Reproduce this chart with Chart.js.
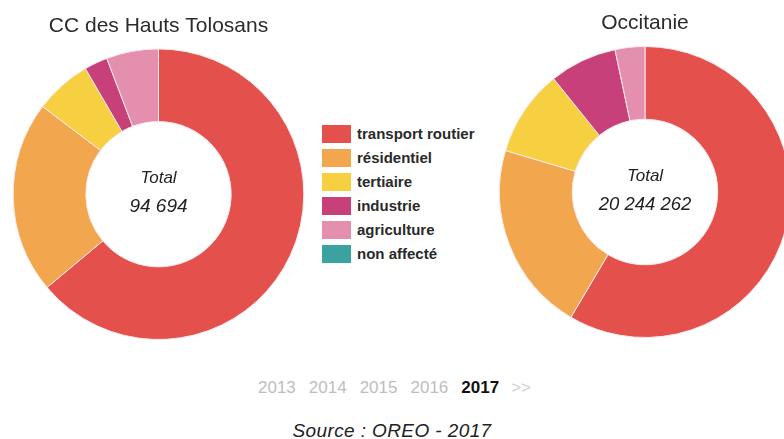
<!DOCTYPE html>
<html>
<head>
<meta charset="utf-8">
<script src="https://cdn.jsdelivr.net/npm/chart.js@4.4.1/dist/chart.umd.min.js"></script>
<style>
    html, body { margin: 0; padding: 0; background: #fff; }
    body { width: 784px; height: 439px; position: relative; overflow: hidden; font-family: 'Liberation Sans', Arial, sans-serif; }
    #leftBox { position: absolute; left: 0; top: 0; width: 317px; height: 342px; }
    #rightBox { position: absolute; left: 495px; top: 0; width: 300px; height: 340px; }
    #legend { position: absolute; left: 322px; top: 125px; }
    .row { height: 24px; display: flex; align-items: flex-start; }
    .box { width: 29px; height: 18px; margin-right: 6px; }
    .lbl { font-weight: bold; font-size: 15px; color: #2a2a2a; line-height: 18px; }
    #years { position: absolute; left: 258px; top: 378px; font-size: 17px; color: #bdbdbd; white-space: nowrap; }
    #years span { margin-right: 13px; }
    #years b { color: #111; margin-right: 12px; }
    #years i { font-style: normal; color: #cfcfcf; font-size: 17px; }
    #source { position: absolute; left: 0; width: 784px; top: 420px; text-align: center; font-size: 19px; letter-spacing: 0.4px; font-style: italic; color: #222; }
</style>
</head>
<body>
<div id="leftBox"><canvas id="leftChart"></canvas></div>
<div id="rightBox"><canvas id="rightChart"></canvas></div>
<div id="legend"></div>
<div id="years"></div>
<div id="source">Source : OREO - 2017</div>

<script>
const sectors = ['transport routier', 'résidentiel', 'tertiaire', 'industrie', 'agriculture', 'non affecté'];
const sectorColors = ['#e4514d', '#f2a74e', '#f6d040', '#c8407a', '#e48fae', '#3aa29f'];

const hautsTolosansValues = [60520, 20260, 5970, 2460, 5484, 0];
const occitanieValues = [11843000, 4271000, 1943000, 1518000, 669262, 0];

const hautsTolosansTotal = '94 694';
const occitanieTotal = '20 244 262';

const years = ['2013', '2014', '2015', '2016', '2017'];
const currentYear = '2017';

// legend in the middle
const legend = document.getElementById('legend');
sectors.forEach(function(name, i) {
    const row = document.createElement('div');
    row.className = 'row';
    row.innerHTML = '<div class="box" style="background:' + sectorColors[i] + '"></div><div class="lbl">' + name + '</div>';
    legend.appendChild(row);
});

// year selector under the charts
let yearsHtml = '';
years.forEach(function(y) {
    yearsHtml += (y === currentYear) ? '<b>' + y + '</b>' : '<span>' + y + '</span>';
});
document.getElementById('years').innerHTML = yearsHtml + '<i>&gt;&gt;</i>';

const centerText = {
    id: 'centerText',
    afterDraw(chart) {
        const meta = chart.getDatasetMeta(0);
        if (!meta.data.length) return;
        const x = meta.data[0].x;
        const y = meta.data[0].y;
        const opts = chart.options.plugins.centerText;
        const ctx = chart.ctx;
        ctx.save();
        ctx.fillStyle = '#222';
        ctx.textAlign = 'center';
        ctx.textBaseline = 'middle';
        ctx.font = 'italic 17px "Liberation Sans", Arial, sans-serif';
        ctx.fillText('Total', x, y - 16);
        ctx.font = 'italic ' + opts.size + 'px "Liberation Sans", Arial, sans-serif';
        ctx.fillText(opts.total, x, y + 13);
        ctx.restore();
    }
};

function makeDonut(id, title, values, total, titlePad, totalSize) {
    const ctx = document.getElementById(id).getContext('2d');
    return new Chart(ctx, {
        type: 'doughnut',
        data: {
            labels: sectors,
            datasets: [{
                data: values,
                backgroundColor: sectorColors,
                borderColor: '#fbe9ea',
                borderWidth: 1
            }]
        },
        options: {
            responsive: true,
            maintainAspectRatio: false,
            animation: false,
            cutout: '50%',
            layout: { padding: { bottom: 2 } },
            plugins: {
                legend: { display: false },
                tooltip: { enabled: false },
                title: {
                    display: true,
                    text: title,
                    color: '#2b2b2b',
                    font: { size: 21, weight: 'normal', family: '"Liberation Sans", Arial, sans-serif' },
                    padding: titlePad
                },
                centerText: { total: total, size: totalSize }
            }
        },
        plugins: [centerText]
    });
}

makeDonut('leftChart', 'CC des Hauts Tolosans', hautsTolosansValues, hautsTolosansTotal, { top: 13.4, bottom: 9.8 }, 19);
makeDonut('rightChart', 'Occitanie', occitanieValues, occitanieTotal, { top: 10.4, bottom: 10.4 }, 18.5);
</script>
</body>
</html>
